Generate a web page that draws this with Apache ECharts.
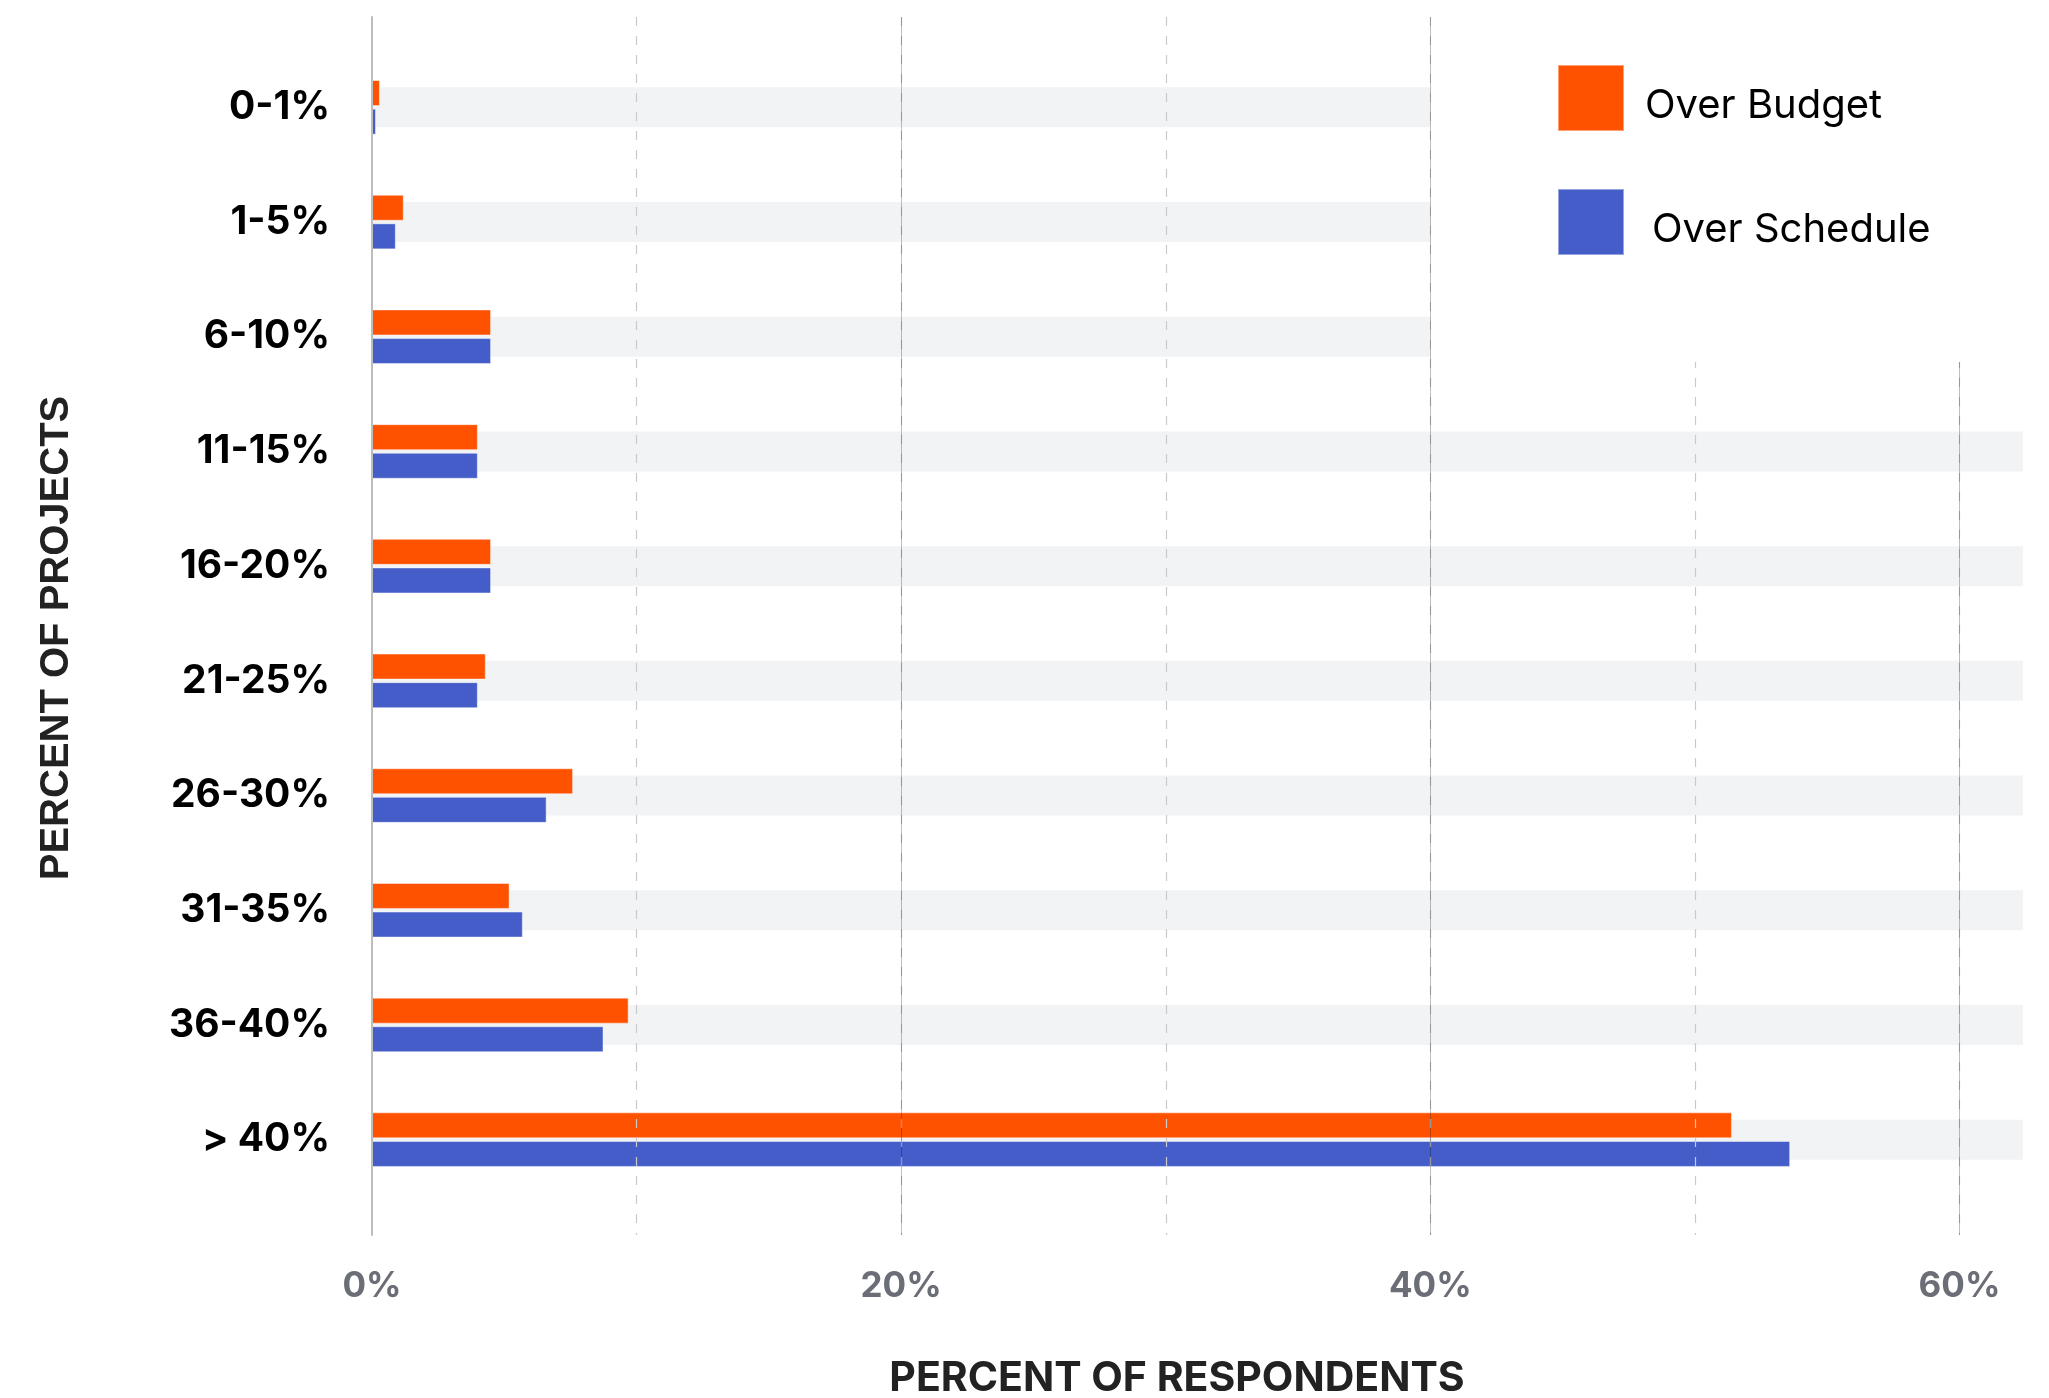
<!DOCTYPE html>
<html>
<head>
<meta charset="utf-8">
<script src="https://cdn.jsdelivr.net/npm/echarts@6/dist/echarts.min.js"></script>
<style>
  html, body { margin: 0; padding: 0; background: #fff; }
  #chart { width: 2049px; height: 1398px; }
</style>
</head>
<body>
<div id="chart"></div>
<script>
const categories = ['0-1%', '1-5%', '6-10%', '11-15%', '16-20%', '21-25%', '26-30%', '31-35%', '36-40%', '> 40%'];
const overBudget = [0.3, 1.2, 4.5, 4.0, 4.5, 4.3, 7.6, 5.2, 9.7, 51.4];
const overSchedule = [0.15, 0.9, 4.5, 4.0, 4.5, 4.0, 6.6, 5.7, 8.75, 53.6];
const seriesNames = ['Over Budget', 'Over Schedule'];
const X_MAX = 62.4;
const bandValues = categories.map(() => X_MAX);

const chart = echarts.init(document.getElementById('chart'), null, { renderer: 'canvas' });

const option = {
  animation: false,
  backgroundColor: '#ffffff',
  grid: [
    { left: 372, width: 1651, top: 50, height: 1147 },
    { left: 372, width: 1651, top: 17, height: 1218 }
  ],
  xAxis: [
    { type: 'value', gridIndex: 0, min: 0, max: X_MAX, show: false },
    {
      type: 'value', gridIndex: 1, min: 0, max: X_MAX, interval: 20, position: 'bottom', z: 4,
      axisLine: { show: false }, axisTick: { show: false },
      splitLine: { show: true, showMinLine: false, showMaxLine: false, lineStyle: { color: 'rgba(0,0,0,0.25)', width: 1 } },
      axisLabel: {
        formatter: '{value}%', showMaxLabel: false, margin: 34,
        fontFamily: 'Inter', fontSize: 35, fontWeight: 'bold', color: '#6b6e76'
      }
    },
    {
      type: 'value', gridIndex: 1, min: 0, max: X_MAX, interval: 10, position: 'top', z: 3,
      axisLine: { show: false }, axisTick: { show: false }, axisLabel: { show: false },
      splitLine: { show: true, showMinLine: false, showMaxLine: false, lineStyle: { color: '#cacaca', width: 1.2, type: [9, 10] } }
    }
  ],
  yAxis: [
    {
      type: 'category', gridIndex: 0, data: categories, inverse: true,
      axisLine: { show: false }, axisTick: { show: false }, splitLine: { show: false },
      axisLabel: { margin: 42, fontFamily: 'Inter', fontSize: 39, fontWeight: 'bold', color: '#000' }
    },
    { type: 'category', gridIndex: 0, data: categories, inverse: true, show: false },
    {
      type: 'value', gridIndex: 1, min: 0, max: 1, position: 'left', z: 4,
      axisLine: { show: true, lineStyle: { color: '#bdbdbd', width: 2 } },
      axisTick: { show: false }, axisLabel: { show: false }, splitLine: { show: false }
    }
  ],
  legend: {
    orient: 'vertical', left: 1431, top: 0,
    padding: [64, 130, 106, 126],
    itemWidth: 66, itemHeight: 66, itemGap: 56,
    backgroundColor: '#ffffff', icon: 'rect', z: 10,
    selectedMode: false,
    formatter: '{t|{name}}',
    textStyle: {
      fontFamily: 'Inter', fontSize: 40, color: '#000', padding: [16, 0, 0, 16],
      rich: { t: { fontFamily: 'Inter', fontSize: 40, color: '#000' } }
    },
    data: [
      { name: seriesNames[0] },
      { name: seriesNames[1], textStyle: { padding: [16, 0, 0, 23] } }
    ]
  },
  graphic: [
    {
      type: 'text', x: 1177, y: 1379, silent: true,
      style: { text: 'PERCENT OF RESPONDENTS', font: 'bold 41px Inter', fill: '#222', align: 'center', verticalAlign: 'middle' }
    },
    {
      type: 'text', x: 57, y: 638, rotation: Math.PI / 2, silent: true,
      style: { text: 'PERCENT OF PROJECTS', font: 'bold 40px "Liberation Sans"', fill: '#222', align: 'center', verticalAlign: 'middle' }
    }
  ],
  series: [
    {
      name: 'band', type: 'bar', xAxisIndex: 0, yAxisIndex: 1, data: bandValues,
      barWidth: 40, silent: true, z: 1,
      itemStyle: { color: '#f2f3f5' }
    },
    {
      name: seriesNames[0], type: 'bar', xAxisIndex: 0, yAxisIndex: 0, data: overBudget,
      barWidth: 26, barGap: '10%', z: 2,
      itemStyle: { color: '#ff5200', borderColor: 'rgba(255,255,255,0.45)', borderWidth: 1 }
    },
    {
      name: seriesNames[1], type: 'bar', xAxisIndex: 0, yAxisIndex: 0, data: overSchedule,
      barWidth: 26, barGap: '10%', z: 2,
      itemStyle: { color: '#445dc9', borderColor: 'rgba(255,255,255,0.45)', borderWidth: 1 }
    }
  ]
};
chart.setOption(option);
</script>
</body>
</html>
